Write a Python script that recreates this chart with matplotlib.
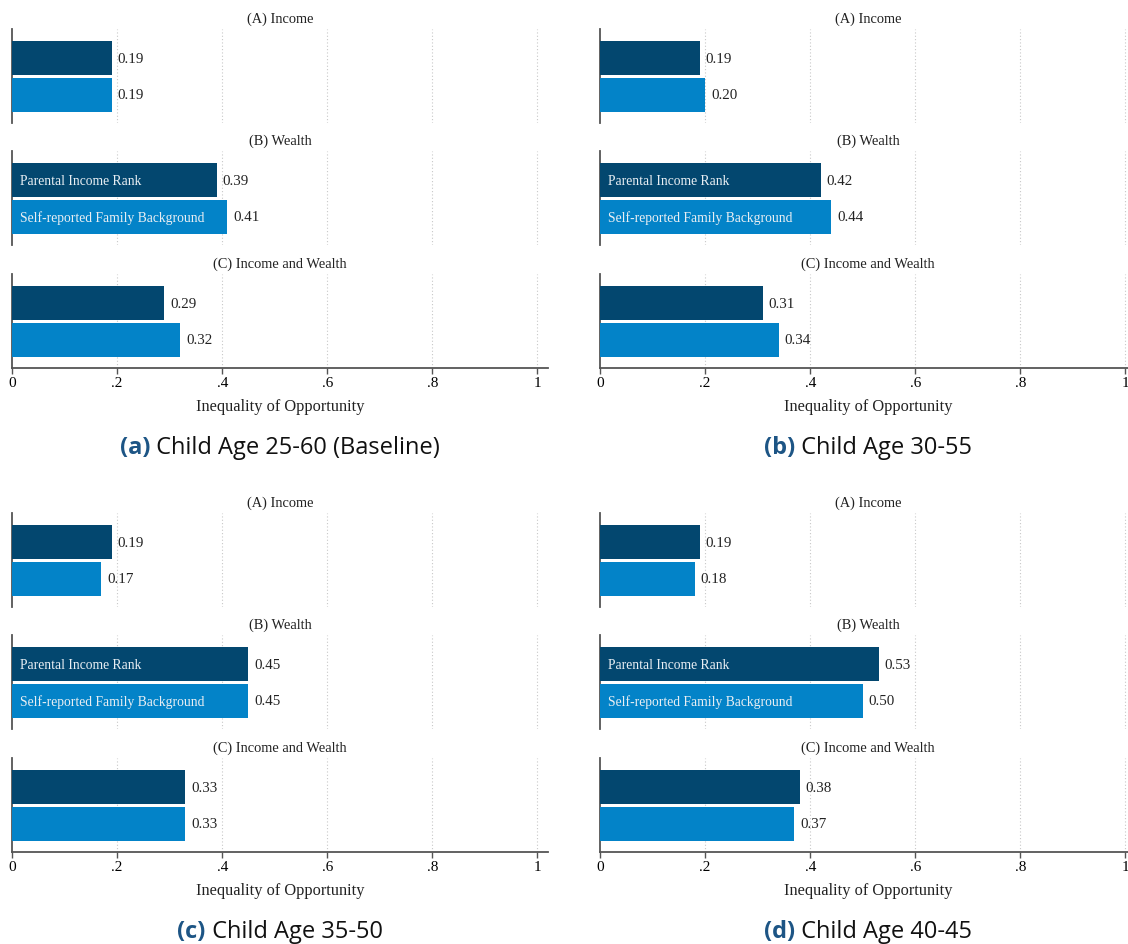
import matplotlib
matplotlib.use("Agg")
import matplotlib.pyplot as plt
from matplotlib.ticker import FuncFormatter

# Datos
grupos = ["(A) Income", "(B) Wealth", "(C) Income and Wealth"]
etiquetas_panel = ["(a)", "(b)", "(c)", "(d)"]
titulos_panel = ["Child Age 25-60 (Baseline)", "Child Age 30-55",
                 "Child Age 35-50", "Child Age 40-45"]
series = ["Parental Income Rank", "Self-reported Family Background"]

# valores por panel: [Income, Wealth, Income and Wealth]
parental_rank = [
    [0.19, 0.39, 0.29],
    [0.19, 0.42, 0.31],
    [0.19, 0.45, 0.33],
    [0.19, 0.53, 0.38],
]
self_reported = [
    [0.19, 0.41, 0.32],
    [0.20, 0.44, 0.34],
    [0.17, 0.45, 0.33],
    [0.18, 0.50, 0.37],
]
xticks = [0, 0.2, 0.4, 0.6, 0.8, 1.0]

color_oscuro = "#03476f"
color_claro = "#0383c8"
color_tag = "#1d5585"
serif = "Liberation Serif"

W, H = 1128, 945
fig = plt.figure(figsize=(W / 100, H / 100), dpi=100)


def fmt_tick(x, pos):
    s = "%g" % x
    return s[1:] if s.startswith("0.") else s


col_left = [12, 600]
row_off = [0, 484]
ax_tops = [30, 152, 275]
ax_h = 94
ax_w = 536

for p in range(4):
    col = p % 2
    row = p // 2
    x0 = col_left[col]
    for g in range(3):
        top = ax_tops[g] + row_off[row]
        ax = fig.add_axes([x0 / W, 1 - (top + ax_h) / H, ax_w / W, ax_h / H])
        vals = [parental_rank[p][g], self_reported[p][g]]
        ypos = [1, 0]
        cols = [color_oscuro, color_claro]
        ax.barh(ypos, vals, height=0.92, color=cols, zorder=3)
        for y, v in zip(ypos, vals):
            ax.text(v + 0.011, y, "%.2f" % v, va="center", ha="left",
                    fontsize=10.8, family=serif, color="#222222", zorder=4)
        if g == 1:
            for y, nombre in zip(ypos, series):
                ax.text(0.016, y, nombre, va="center", ha="left",
                        fontsize=9.8, family=serif, color="#e8eef3", zorder=4)
        ax.set_xlim(0, 1.02)
        ax.set_ylim(-0.77, 1.79)
        ax.set_yticks([])
        ax.set_xticks(xticks)
        for xv in xticks[1:]:
            ax.axvline(xv, color="#c8c8c8", lw=0.8, ls=(0, (1, 2)), zorder=1)
        ax.set_title(grupos[g], fontsize=10.4, family=serif, pad=5, color="#222222")
        for s in ["top", "right"]:
            ax.spines[s].set_visible(False)
        ax.spines["left"].set_color("#555555")
        ax.spines["left"].set_linewidth(1.3)
        if g == 2:
            ax.spines["bottom"].set_color("#555555")
            ax.spines["bottom"].set_linewidth(1.3)
            ax.tick_params(axis="x", length=4, width=1, color="#555555",
                           labelsize=11, pad=2)
            ax.xaxis.set_major_formatter(FuncFormatter(fmt_tick))
            for lab in ax.get_xticklabels():
                lab.set_family(serif)
            ax.set_xlabel("Inequality of Opportunity", fontsize=11.8,
                          family=serif, labelpad=6, color="#222222")
        else:
            ax.spines["bottom"].set_visible(False)
            ax.tick_params(axis="x", length=0, labelbottom=False)

# Subtítulos de cada panel
fig.canvas.draw()
rend = fig.canvas.get_renderer()
centros = [280, 868]
for p in range(4):
    col = p % 2
    row = p // 2
    y = 1 - (448 + row_off[row]) / H
    t1 = fig.text(0, y, etiquetas_panel[p], fontsize=17, fontweight="bold",
                  family="Open Sans", color=color_tag, va="center", ha="left")
    t2 = fig.text(0, y, " " + titulos_panel[p], fontsize=17,
                  family="Open Sans", color="#111111", va="center", ha="left")
    w1 = t1.get_window_extent(rend).width
    w2 = t2.get_window_extent(rend).width
    start = centros[col] - (w1 + w2) / 2
    t1.set_x(start / W)
    t2.set_x((start + w1) / W)

fig.savefig("out.png", dpi=100)
